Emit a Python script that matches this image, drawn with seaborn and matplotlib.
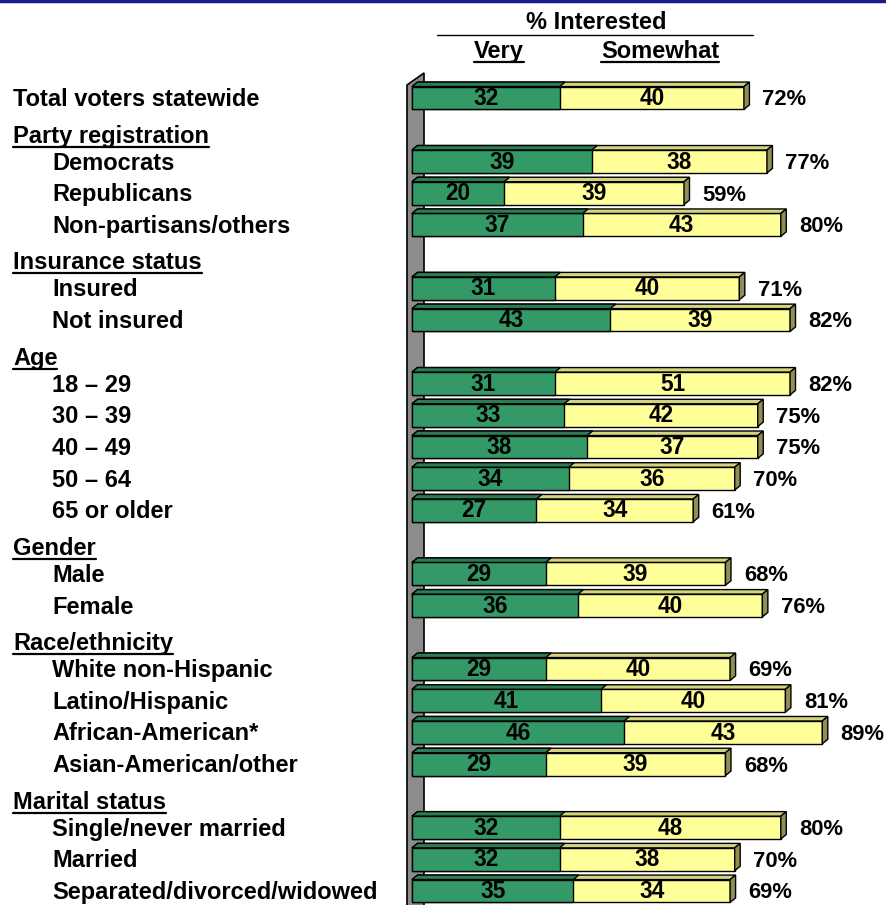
"""Interest by subgroup: 3D-style stacked horizontal bars."""
import matplotlib
matplotlib.use("Agg")
import matplotlib.pyplot as plt
from matplotlib.patches import Polygon
import numpy as np
import pandas as pd
import seaborn as sns

# ---- data -------------------------------------------------------------
groups = [
    (None, ["Total voters statewide"]),
    ("Party registration", ["Democrats", "Republicans", "Non-partisans/others"]),
    ("Insurance status", ["Insured", "Not insured"]),
    ("Age", ["18 \u2013 29", "30 \u2013 39", "40 \u2013 49", "50 \u2013 64", "65 or older"]),
    ("Gender", ["Male", "Female"]),
    ("Race/ethnicity", ["White non-Hispanic", "Latino/Hispanic",
                        "African-American*", "Asian-American/other"]),
    ("Marital status", ["Single/never married", "Married",
                        "Separated/divorced/widowed"]),
]
very = [32, 39, 20, 37, 31, 43, 31, 33, 38, 34, 27, 29, 36, 29, 41, 46, 29, 32, 32, 35]
somewhat = [40, 38, 39, 43, 40, 39, 51, 42, 37, 36, 34, 39, 40, 40, 40, 43, 39, 48, 38, 34]
total = [72, 77, 59, 80, 71, 82, 82, 75, 75, 70, 61, 68, 76, 69, 81, 89, 68, 80, 70, 69]

GREEN = "#339966"
YELLOW = "#ffff99"
GREEN_TOP = "#2a7d52"
YELLOW_TOP = "#d4d47e"
SIDE = "#8f8f55"
WALL = "#8c8c8c"
FONT = "Liberation Sans"

# ---- row layout (one empty slot before every header) -------------------
rows, headers = [], []
slot = 0
for head, items in groups:
    if head is not None:
        headers.append((head, slot))
        slot += 1
    for it in items:
        rows.append((it, slot))
        slot += 1

df = pd.DataFrame({
    "label": [r[0] for r in rows],
    "pos": [r[1] for r in rows],
    "very": very,
    "somewhat": somewhat,
})
df["stack"] = df["very"] + df["somewhat"]

# ---- figure ------------------------------------------------------------
sns.set_theme(style="white")
plt.rcParams["font.family"] = [FONT, "DejaVu Sans"]
plt.rcParams["text.color"] = "black"
W, H = 886, 905
fig = plt.figure(figsize=(W / 100, H / 100), dpi=100)
ax = fig.add_axes([0, 0, 1, 1])

PX = 4.61      # pixels per percentage point
X0 = 412       # pixel x of zero
SLOT = 31.72   # pixels per row slot
Y0 = 98        # pixel y of first row
LAB_FS = 17
NUM_FS = 16.3
TOT_FS = 15.8


def px2d(px, py):
    return (px - X0) / PX, (py - Y0) / SLOT


sns.barplot(data=df, x="stack", y="pos", orient="h", native_scale=True,
            color=YELLOW, width=0.72, saturation=1, edgecolor="black",
            linewidth=1.0, errorbar=None, ax=ax, zorder=3)
sns.barplot(data=df, x="very", y="pos", orient="h", native_scale=True,
            color=GREEN, width=0.72, saturation=1, edgecolor="black",
            linewidth=1.0, errorbar=None, ax=ax, zorder=4)

ax.set_xlim(*[px2d(p, 0)[0] for p in (0, W)])
ax.set_ylim(px2d(0, H)[1], px2d(0, 0)[1])
ax.axis("off")

# 3D depth for every bar, from the bar patches themselves
dx, dy = 5.5 / PX, 4.5 / SLOT
n = len(df)
bars = [p for p in ax.patches]
for i, p in enumerate(bars):
    x0, y0 = p.get_x(), p.get_y()
    w, h = p.get_width(), p.get_height()
    x1 = x0 + w
    is_green = i >= n
    top = Polygon([(x0, y0), (x1, y0), (x1 + dx, y0 - dy), (x0 + dx, y0 - dy)],
                  closed=True, facecolor=GREEN_TOP if is_green else YELLOW_TOP,
                  edgecolor="black", linewidth=1.0, zorder=4 if is_green else 3)
    ax.add_patch(top)
    if not is_green:
        side = Polygon([(x1, y0), (x1 + dx, y0 - dy), (x1 + dx, y0 + h - dy), (x1, y0 + h)],
                       closed=True, facecolor=SIDE, edgecolor="black",
                       linewidth=1.0, zorder=3)
        ax.add_patch(side)

# gray wall at the left
wall = [px2d(407, H + 5), px2d(407, 85), px2d(424, 73), px2d(424, H + 5)]
ax.add_patch(Polygon(wall, closed=True, facecolor=WALL, edgecolor="black",
                     linewidth=1.2, zorder=2))

# value labels
for _, r in df.iterrows():
    ax.text(r["very"] / 2, r["pos"] + 0.02, f"{r['very']}", ha="center", va="center",
            fontsize=NUM_FS, fontweight="bold", zorder=6)
    ax.text(r["very"] + r["somewhat"] / 2, r["pos"] + 0.02, f"{r['somewhat']}",
            ha="center", va="center", fontsize=NUM_FS, fontweight="bold", zorder=6)
for t, (_, r) in zip(total, df.iterrows()):
    ax.text(r["stack"] + 4.0, r["pos"] + 0.06, f"{t}%", ha="left", va="center",
            fontsize=TOT_FS, fontweight="bold")

# row labels
xl_main = px2d(13, 0)[0]
xl_sub = px2d(52, 0)[0]
for lab, pos in rows:
    x = xl_main if pos == 0 else xl_sub
    ax.text(x, pos + 0.05, lab, ha="left", va="center", fontsize=LAB_FS,
            fontweight="bold")

underline = []
for head, pos in headers:
    t = ax.text(xl_main, pos + 0.2, head, ha="left", va="center",
                fontsize=LAB_FS, fontweight="bold")
    underline.append(t)

# column headers
cx = px2d(596, 0)[0]
ax.text(cx, px2d(0, 23)[1], "% Interested", ha="center", va="center",
        fontsize=LAB_FS, fontweight="bold")
la, lb = px2d(437, 35), px2d(753, 35)
ax.plot([la[0], lb[0]], [la[1], lb[1]], color="black", lw=1.0)
underline.append(ax.text(px2d(499, 0)[0], px2d(0, 52)[1], "Very", ha="center",
                         va="center", fontsize=LAB_FS, fontweight="bold"))
underline.append(ax.text(px2d(660, 0)[0], px2d(0, 52)[1], "Somewhat", ha="center",
                         va="center", fontsize=LAB_FS, fontweight="bold"))

# underline the headers using their rendered extents
fig.canvas.draw()
renderer = fig.canvas.get_renderer()
inv = ax.transData.inverted()
for t in underline:
    bb = t.get_window_extent(renderer)
    (ux0, uy), (ux1, _) = inv.transform([(bb.x0, bb.y0 + 1), (bb.x1, bb.y0 + 1)])
    ax.plot([ux0, ux1], [uy, uy], color="black", lw=1.6)

# thin navy rule along the top edge
fig.add_artist(plt.Line2D([0, 1], [0.999, 0.999], color="#1a1a8c", lw=2.5,
                          transform=fig.transFigure))

fig.savefig("out.png", dpi=100)
